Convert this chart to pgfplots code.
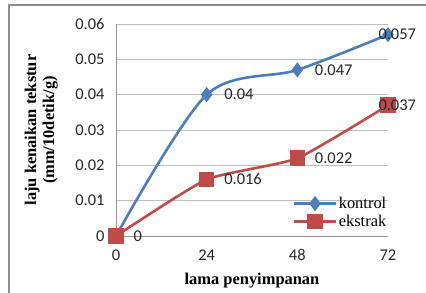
\documentclass[border=0pt]{standalone}
\usepackage{pgfplots}
\pgfplotsset{compat=1.18}
\usepackage{fontspec}
\setmainfont{Liberation Serif}
\newfontfamily\calib{Carlito}
\definecolor{kblue}{RGB}{74,126,187}
\definecolor{ered}{RGB}{190,75,72}
\definecolor{gridc}{RGB}{190,190,190}
\definecolor{framec}{RGB}{140,140,140}
\begin{document}
\begin{tikzpicture}[x=1bp,y=1bp]
\path[use as bounding box] (0,0) rectangle (426,293);
\begin{scope}
\clip (0,0) rectangle (426,293);
\draw[framec, line width=1.5bp] (9,-5) rectangle (432,288);
\end{scope}
\begin{axis}[
  at={(116bp,57bp)}, anchor=south west,
  scale only axis, width=272bp, height=212bp,
  xmin=0, xmax=72, ymin=0, ymax=0.06,
  scaled y ticks=false,
  xtick={0,24,48,72}, ytick={0,0.01,0.02,0.03,0.04,0.05,0.06},
  yticklabels={0,0.01,0.02,0.03,0.04,0.05,0.06},
  xticklabels={0,24,48,72},
  major tick length=0pt,
  ymajorgrids, grid style={gridc, line width=0.8bp},
  axis x line*=bottom, axis y line*=left,
  axis line style={draw=gray!85, line width=0.8bp, -},
  ticklabel style={font=\calib\fontsize{16.5}{19}\selectfont, text=black!85},
  yticklabel style={xshift=-8bp},
  xticklabel style={yshift=-10bp},
  xlabel={\bfseries lama penyimpanan},
  ylabel={\bfseries\begin{tabular}{c}laju kenaikan tekstur\\(mm/10detik/g)\end{tabular}},
  label style={font=\fontsize{16.5}{18}\selectfont},
  xlabel style={yshift=-5bp},
  ylabel style={yshift=9bp},
  legend style={at={(1.0,0.03)}, anchor=south east, draw=none, fill=none,
    font=\fontsize{16.5}{19}\selectfont, row sep=2bp, inner sep=0pt,
    nodes={inner sep=1.5bp}},
  legend cell align=left,
  legend image code/.code={\draw[mark repeat=2,mark phase=2] plot coordinates {(0bp,0bp) (21bp,0bp) (42bp,0bp)};},
  nodes near coords,
  point meta=explicit symbolic,
  every node near coord/.append style={font=\calib\fontsize{16.5}{19}\selectfont, text=black!85, anchor=west},
  clip=false,
]
\addplot[kblue, line width=2.6bp, smooth, tension=0.5, mark=diamond*, mark size=5.5bp, mark options={solid, fill=kblue},
  nodes near coords style={xshift=13bp}]
  coordinates {(0,0) [] (24,0.040) [0.04] (48,0.047) [0.047] (72,0.057) [~]};
\addlegendentry{kontrol}
\addplot[ered, line width=2.6bp, smooth, tension=0.3, mark=square*, mark size=6.5bp, mark options={solid, fill=ered},
  nodes near coords style={xshift=13bp}]
  coordinates {(0,0) [0] (24,0.016) [0.016] (48,0.022) [0.022] (72,0.037) [~]};
\addlegendentry{ekstrak}
\addplot[draw=none, mark=none, forget plot, nodes near coords style={xshift=-13bp}]
  coordinates {(72,0.057) [0.057] (72,0.037) [0.037]};
\end{axis}
\end{tikzpicture}
\end{document}
